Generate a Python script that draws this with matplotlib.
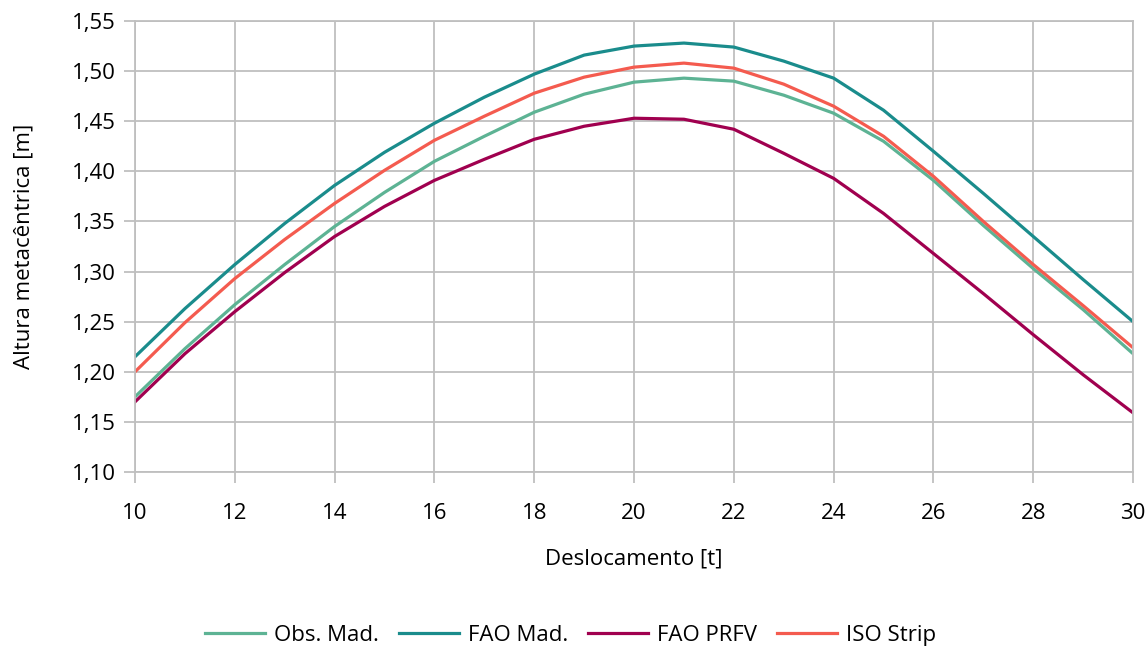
import numpy as np
import matplotlib.pyplot as plt

plt.rcParams["font.family"] = ["Open Sans", "DejaVu Sans"]

DESLOC = [10, 11, 12, 13, 14, 15, 16, 17, 18, 19, 20,
          21, 22, 23, 24, 25, 26, 27, 28, 29, 30]

OBS_MAD  = [1.175, 1.223, 1.267, 1.307, 1.345, 1.379, 1.410, 1.435, 1.459, 1.477, 1.489,
            1.493, 1.490, 1.476, 1.458, 1.430, 1.391, 1.346, 1.303, 1.262, 1.218]
FAO_MAD  = [1.215, 1.263, 1.307, 1.348, 1.386, 1.419, 1.448, 1.474, 1.497, 1.516, 1.525,
            1.528, 1.524, 1.510, 1.493, 1.461, 1.420, 1.378, 1.335, 1.292, 1.250]
FAO_PRFV = [1.170, 1.218, 1.260, 1.299, 1.335, 1.365, 1.391, 1.412, 1.432, 1.445, 1.453,
            1.452, 1.442, 1.418, 1.393, 1.358, 1.318, 1.278, 1.237, 1.197, 1.159]
ISO_STRIP = [1.200, 1.249, 1.293, 1.332, 1.368, 1.401, 1.431, 1.455, 1.478, 1.494, 1.504,
             1.508, 1.503, 1.487, 1.465, 1.435, 1.395, 1.350, 1.307, 1.266, 1.224]

SERIES = [("Obs. Mad.", OBS_MAD, "#5DB394"),
          ("FAO Mad.", FAO_MAD, "#1A8C8C"),
          ("FAO PRFV", FAO_PRFV, "#A0004F"),
          ("ISO Strip", ISO_STRIP, "#F45B4F")]

Y_TICKS = np.arange(1.10, 1.5501, 0.05)

fig = plt.figure(figsize=(11.48, 6.47), dpi=100)
ax = fig.add_axes([0.1176, 0.2705, 0.8694, 0.697])

for name, vals, color in SERIES:
    ax.plot(DESLOC, vals, color=color, linewidth=2.3, label=name,
            solid_joinstyle="round")

ax.set_xlim(10, 30)
ax.set_ylim(1.10, 1.55)
ax.set_xticks(np.arange(10, 31, 2))
ax.set_yticks(Y_TICKS)
ax.set_yticklabels([f"{v:.2f}".replace(".", ",") for v in Y_TICKS])

ax.grid(True, color="#BFBFBF", linewidth=1.3)
ax.set_axisbelow(True)
for s in ax.spines.values():
    s.set_color("#BFBFBF")
    s.set_linewidth(1.3)
ax.tick_params(axis="both", colors="#BFBFBF", labelcolor="black",
               labelsize=16, length=8, width=1.3)
ax.tick_params(axis="x", pad=14)
ax.tick_params(axis="y", pad=6)

ax.set_xlabel("Deslocamento [t]", fontsize=16, labelpad=18)
ax.set_ylabel("Altura metacêntrica [m]", fontsize=16, labelpad=27)

fig.legend(loc="center", bbox_to_anchor=(0.497, 0.0175), ncol=4,
           frameon=False, fontsize=16, handlelength=2.7, columnspacing=0.9,
           handletextpad=0.4)

fig.savefig("out.png", dpi=100)
